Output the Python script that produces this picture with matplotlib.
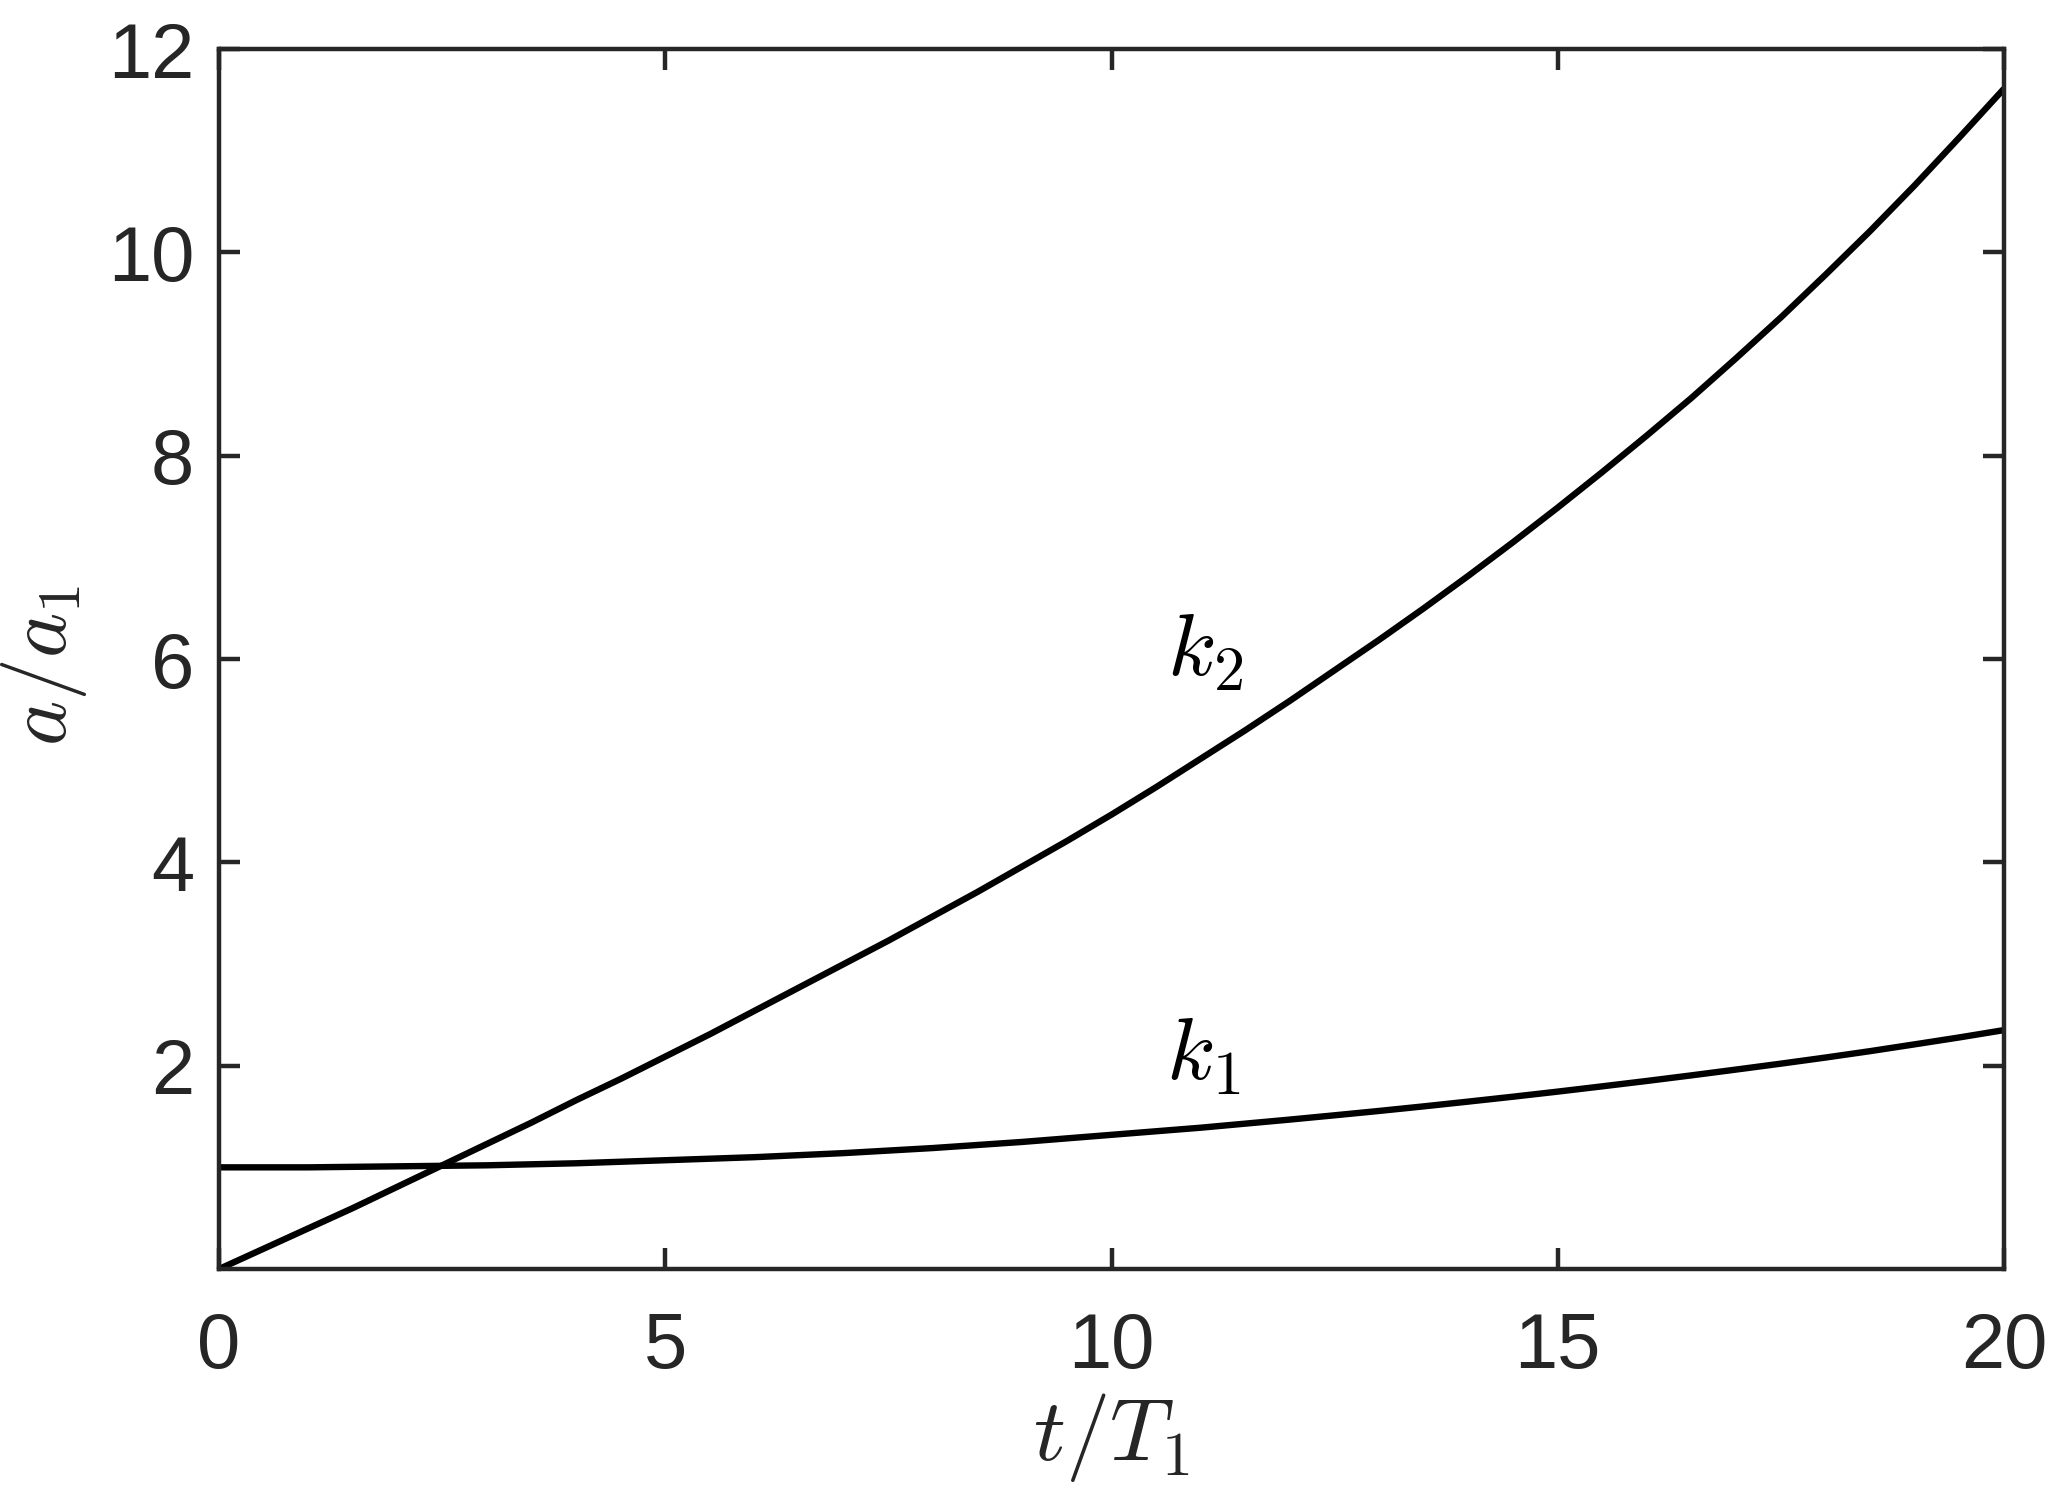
import matplotlib
matplotlib.use("Agg")
import matplotlib.pyplot as plt

t = [0, 0.5, 1, 1.5, 2, 2.5, 3, 3.5, 4, 4.5, 5, 5.5, 6, 6.5, 7, 7.5, 8, 8.5, 9, 9.5,
     10, 10.5, 11, 11.5, 12, 12.5, 13, 13.5, 14, 14.5, 15, 15.5, 16, 16.5, 17, 17.5,
     18, 18.5, 19, 19.5, 20]
k2 = [0.00, 0.20, 0.40, 0.60, 0.81, 1.02, 1.23, 1.44, 1.66, 1.87, 2.09, 2.31, 2.54,
      2.77, 3.00, 3.23, 3.47, 3.71, 3.96, 4.21, 4.47, 4.74, 5.02, 5.30, 5.59, 5.89,
      6.19, 6.50, 6.82, 7.15, 7.49, 7.84, 8.20, 8.57, 8.96, 9.36, 9.78, 10.21, 10.66,
      11.13, 11.61]
k1 = [1.000, 1.000, 1.000, 1.005, 1.010, 1.015, 1.020, 1.030, 1.040, 1.055, 1.070,
      1.085, 1.100, 1.120, 1.140, 1.165, 1.190, 1.220, 1.250, 1.285, 1.320, 1.355,
      1.390, 1.430, 1.470, 1.512, 1.555, 1.600, 1.647, 1.695, 1.745, 1.797, 1.850,
      1.905, 1.962, 2.020, 2.080, 2.143, 2.210, 2.278, 2.350]
xticks = [0, 5, 10, 15, 20]
yticks = [2, 4, 6, 8, 10, 12]
labels = [r"$k_2$", r"$k_1$"]
label_pos = [(11.05, 6.06), (11.03, 2.09)]

plt.rcParams['mathtext.fontset'] = 'cm'
plt.rcParams['font.family'] = ['Liberation Sans', 'DejaVu Sans']

fig = plt.figure(figsize=(20.67, 15.10), dpi=100)
ax = fig.add_axes([0.106, 0.1596, 0.8635, 0.8079])
ax.plot(t, k2, color='black', lw=4.6, solid_capstyle='butt', solid_joinstyle='round')
ax.plot(t, k1, color='black', lw=4.6, solid_capstyle='butt', solid_joinstyle='round')
for lab, (x, y) in zip(labels, label_pos):
    ax.text(x, y, lab, fontsize=64, ha='center', va='center', color='black')

ax.set_xlim(0, 20)
ax.set_ylim(0, 12)
ax.set_xticks(xticks)
ax.set_yticks(yticks)
c = '#262626'
for s in ax.spines.values():
    s.set_linewidth(3.2)
    s.set_color(c)
ax.tick_params(direction='in', length=15, width=3.2, color=c, labelcolor=c,
               labelsize=56, top=True, right=True)
ax.tick_params(axis='x', pad=30)
ax.tick_params(axis='y', pad=18)
ax.set_xlabel(r"$t/T_1$", fontsize=64, color=c)
ax.xaxis.set_label_coords(0.5, -0.100)
ax.set_ylabel(r"$a/a_1$", fontsize=62, color=c)
ax.yaxis.set_label_coords(-0.073, 0.495)
fig.savefig("out.png", dpi=100)
